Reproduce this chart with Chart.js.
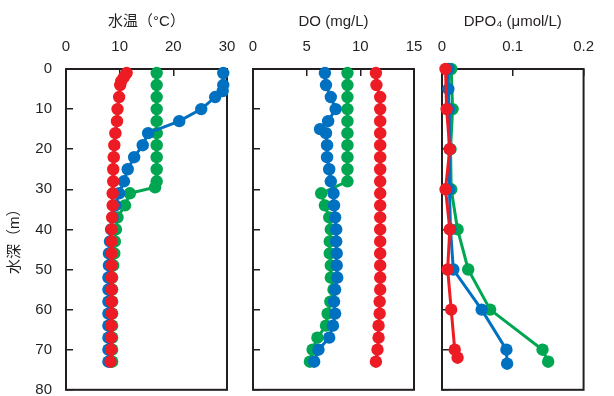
<!DOCTYPE html>
<html>
<head>
<meta charset="utf-8">
<script src="https://cdn.jsdelivr.net/npm/chart.js@4.4.0/dist/chart.umd.min.js"></script>
<style>
  body { margin: 0; background: #fff; }
  #wrap { position: relative; width: 614px; height: 396px; }
  canvas { position: absolute; left: 0; top: 0; }
</style>
</head>
<body>
<div id="wrap">
  <canvas id="tempChart" width="614" height="396"></canvas>
  <canvas id="doChart" width="614" height="396"></canvas>
  <canvas id="dpoChart" width="614" height="396"></canvas>
</div>
<script>
// depth (m) and values
const tempRedDepth = [1, 2, 3, 4, 7, 10, 13, 16, 19, 22, 25, 28, 31, 34, 37, 40, 43, 46, 49, 52, 55, 58, 61, 64, 67, 70, 73];
const tempRed = [11.3, 10.8, 10.3, 10.1, 9.9, 9.6, 9.5, 9.2, 9.0, 8.9, 8.8, 8.8, 8.7, 8.7, 8.6, 8.5, 8.5, 8.5, 8.5, 8.5, 8.5, 8.5, 8.5, 8.4, 8.4, 8.4, 8.3];
const tempBlueDepth = [1, 4, 5.5, 7, 10, 13, 16, 19, 22, 25, 28, 31, 34, 37, 40, 43, 46, 49, 52, 55, 58, 61, 64, 67, 70, 73];
const tempBlue = [29.3, 29.3, 29.2, 27.8, 25.2, 21.1, 15.3, 14.3, 12.7, 11.5, 10.8, 9.9, 9.2, 8.7, 8.4, 8.2, 8.0, 8.0, 7.9, 7.9, 7.9, 7.9, 7.9, 7.9, 7.9, 7.9];
const tempGreenDepth = [1, 4, 7, 10, 13, 16, 19, 22, 25, 28, 29.5, 31, 34, 37, 40, 43, 46, 49, 52, 55, 58, 61, 64, 67, 70, 73];
const tempGreen = [16.9, 16.9, 16.9, 16.9, 16.9, 16.9, 16.9, 16.9, 16.9, 16.9, 16.6, 11.9, 11.0, 9.6, 9.3, 9.1, 9.0, 8.8, 8.6, 8.6, 8.6, 8.6, 8.6, 8.6, 8.6, 8.6];

const doRedDepth = [1, 4, 7, 10, 13, 16, 19, 22, 25, 28, 31, 34, 37, 40, 43, 46, 49, 52, 55, 58, 61, 64, 67, 70, 73];
const doRed = [11.45, 11.5, 11.85, 11.85, 11.85, 11.85, 11.85, 11.85, 11.85, 11.85, 11.85, 11.85, 11.85, 11.85, 11.85, 11.85, 11.85, 11.85, 11.85, 11.8, 11.8, 11.7, 11.7, 11.6, 11.45];
const doBlueDepth = [1, 4, 7, 10, 13, 15, 16, 19, 22, 25, 28, 31, 34, 37, 40, 43, 46, 49, 52, 55, 58, 61, 64, 67, 70, 73];
const doBlue = [6.7, 6.8, 7.25, 7.7, 7.0, 6.25, 6.8, 6.9, 6.9, 7.1, 7.25, 7.5, 7.55, 7.65, 7.75, 7.75, 7.8, 7.8, 7.85, 7.65, 7.55, 7.65, 7.45, 7.1, 6.1, 5.7];
const doGreenDepth = [1, 4, 7, 10, 13, 16, 19, 22, 25, 28, 31, 34, 37, 40, 43, 46, 49, 52, 55, 58, 61, 64, 67, 70, 73];
const doGreen = [8.8, 8.8, 8.8, 8.8, 8.8, 8.8, 8.8, 8.8, 8.8, 8.8, 6.35, 6.7, 7.1, 7.25, 7.15, 7.15, 7.25, 7.25, 7.5, 7.2, 6.95, 6.8, 6.0, 5.55, 5.3];

const dpoRedDepth = [0, 10, 20, 30, 40, 50, 60, 70, 72];
const dpoRed = [0.005, 0.0065, 0.011, 0.005, 0.011, 0.008, 0.013, 0.018, 0.022];
const dpoBlueDepth = [0, 5, 10, 20, 30, 40, 50, 60, 70, 73.5];
const dpoBlue = [0.009, 0.009, 0.01, 0.011, 0.01, 0.012, 0.016, 0.056, 0.091, 0.092];
const dpoGreenDepth = [0, 10, 20, 30, 40, 50, 60, 70, 73];
const dpoGreen = [0.013, 0.015, 0.012, 0.013, 0.022, 0.037, 0.068, 0.142, 0.15];

const RED = "rgb(237, 28, 36)";
const BLUE = "rgb(0, 112, 192)";
const GREEN = "rgb(0, 166, 81)";
const INK = "#231f20";
const tickFont = { family: "'Liberation Sans', Arial, sans-serif", size: 15 };
const titleFont = { family: "'Liberation Sans', 'Noto Sans CJK JP', sans-serif", size: 15 };

const toPoints = (depths, values) => depths.map((d, i) => ({ x: values[i], y: d }));

const makeDataset = (color, depths, values) => {
  return {
    data: toPoints(depths, values),
    showLine: true,
    borderColor: color,
    backgroundColor: color,
    borderWidth: 3,
    pointRadius: 6.2,
    pointBorderWidth: 0,
    pointBackgroundColor: color,
    clip: false,
  };
};

// box around the plot area, drawn under the markers
const framePlugin = {
  id: "frame",
  beforeDatasetsDraw(chart) {
    const { ctx, chartArea: a } = chart;
    ctx.save();
    ctx.strokeStyle = INK;
    ctx.lineWidth = 2;
    ctx.strokeRect(a.left, a.top, a.right - a.left, a.bottom - a.top);
    ctx.restore();
  },
};

const createPanel = (id, datasets, title, xMax, xStep, leftWidth, rightPad, withYLabels) => {
  const config = {
    type: "scatter",
    data: { datasets: datasets },
    options: {
      responsive: false,
      animation: false,
      layout: { padding: { top: 0, left: 0, right: rightPad, bottom: 6 } },
      plugins: { legend: { display: false }, tooltip: { enabled: false } },
      scales: {
        x: {
          type: "linear",
          position: "top",
          min: 0,
          max: xMax,
          ticks: { stepSize: xStep, font: tickFont, color: INK, padding: 20 },
          grid: { drawOnChartArea: false, tickLength: -7, color: INK, lineWidth: 1.5 },
          border: { display: false },
          title: { display: true, text: title, font: titleFont, color: INK, padding: { top: 13, bottom: 0 } },
          afterFit: (scale) => {
            scale.height = 69;
          },
        },
        y: {
          type: "linear",
          reverse: true,
          min: 0,
          max: 80,
          ticks: { stepSize: 10, font: tickFont, color: INK, padding: 21, display: withYLabels },
          grid: { drawOnChartArea: false, tickLength: -7, color: INK, lineWidth: 1.5 },
          border: { display: false },
          title: {
            display: withYLabels,
            text: "水深（m）    ",
            font: titleFont,
            color: INK,
            padding: { top: 6, bottom: 0 },
          },
          afterFit: (scale) => {
            scale.width = leftWidth;
            // keep the end labels from shrinking the plot area
            scale.paddingTop = 0;
            scale.paddingBottom = 0;
          },
        },
      },
    },
    plugins: [framePlugin],
  };
  // eslint-disable-next-line no-undef
  return new Chart(document.getElementById(id), config);
};

createPanel(
  "tempChart",
  [makeDataset(RED, tempRedDepth, tempRed), makeDataset(BLUE, tempBlueDepth, tempBlue), makeDataset(GREEN, tempGreenDepth, tempGreen)],
  "水温（°C）", 30, 10, 66, 387, true
);
createPanel(
  "doChart",
  [makeDataset(RED, doRedDepth, doRed), makeDataset(BLUE, doBlueDepth, doBlue), makeDataset(GREEN, doGreenDepth, doGreen)],
  "DO (mg/L)", 15, 5, 253, 200, false
);
createPanel(
  "dpoChart",
  [makeDataset(RED, dpoRedDepth, dpoRed), makeDataset(BLUE, dpoBlueDepth, dpoBlue), makeDataset(GREEN, dpoGreenDepth, dpoGreen)],
  "DPO₄ (μmol/L)", 0.2, 0.1, 442, 11, false
);
</script>
</body>
</html>
